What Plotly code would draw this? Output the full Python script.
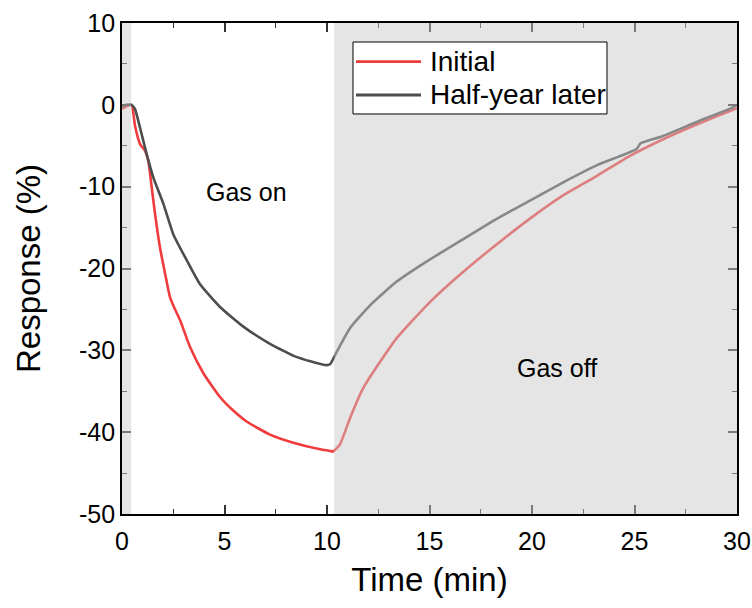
import plotly.graph_objects as go

# ---- data ----
initial_t = [0, 0.2, 0.47, 0.63, 0.88, 1.12, 1.28, 1.45, 1.61, 1.85, 2.1, 2.34, 2.55,
             2.83, 3.32, 3.97, 4.78, 5.4, 6.08, 7.22, 8.36, 9.66, 10.15, 10.3, 10.63,
             11.12, 11.77, 12.59, 13.4, 15.02, 16.65, 18.3, 19.9, 21.5, 23.15, 24.8,
             26.4, 28.03, 29.9, 30]
initial_v = [-0.5, -0.2, 0, -2.5, -4.8, -5.6, -6.8, -10.1, -13.3, -17.4, -20.6, -23.5,
             -24.8, -26.3, -29.6, -32.8, -35.7, -37.3, -38.7, -40.3, -41.3, -42.1, -42.3,
             -42.35, -41.5, -38.3, -34.6, -31.4, -28.5, -24.1, -20.4, -17.0, -13.9,
             -11.1, -8.7, -6.2, -4.2, -2.4, -0.5, -0.4]

half_t = [0, 0.2, 0.47, 0.63, 0.88, 1.2, 1.53, 2.02, 2.5, 3.16, 3.8, 4.78, 5.92, 7.22,
          8.5, 9.9, 10.15, 10.47, 11.12, 12.1, 13.4, 14.7, 16.65, 18.3, 19.9, 21.5,
          23.15, 25.1, 25.3, 26.4, 28.03, 29.8, 30]
half_v = [-0.2, 0, 0, -0.5, -2.8, -6, -8.9, -12.1, -15.8, -19, -21.9, -24.7, -27.1,
          -29.2, -30.8, -31.8, -31.7, -30.2, -27.3, -24.5, -21.6, -19.4, -16.4, -13.9,
          -11.7, -9.5, -7.4, -5.4, -4.7, -3.8, -2.1, -0.3, 0]

series_names = ["Initial", "Half-year later"]
gas_off_start = 10.35
pre_gas_end = 0.45
x_ticks = [0, 5, 10, 15, 20, 25, 30]
y_ticks = [-50, -40, -30, -20, -10, 0, 10]
y_ticktext = ["-50", "-40", "-30", "-20", "-10", "0", "10"]

RED = "#f03c3c"
GRAY = "#4d4d4d"
FONT = "Liberation Sans, Arial, sans-serif"
colors = [RED, GRAY]

fig = go.Figure()
for t, v, name, c in [(initial_t, initial_v, series_names[0], RED),
                      (half_t, half_v, series_names[1], GRAY)]:
    fig.add_trace(go.Scatter(x=t, y=v, mode="lines", name=name, showlegend=False,
                             line=dict(color=c, width=2.6, shape="spline", smoothing=0.5)))

shade = "rgba(200,200,200,0.48)"
for x0, x1 in [(0, pre_gas_end), (gas_off_start, 30)]:
    fig.add_shape(type="rect", xref="x", yref="paper", x0=x0, x1=x1, y0=0, y1=1,
                  fillcolor=shade, line=dict(width=0), layer="above")

# legend box drawn by hand (above the shading)
fig.add_shape(type="rect", xref="paper", yref="paper", x0=0.3756, x1=0.7886,
              y0=0.8147, y1=0.9613, fillcolor="white",
              line=dict(color="black", width=1), layer="above")
legend_y = [0.9212, 0.8534]
for name, c, ly in zip(series_names, colors, legend_y):
    fig.add_shape(type="line", xref="paper", yref="paper", x0=0.3805, x1=0.4862,
                  y0=ly, y1=ly, line=dict(color=c, width=2.8), layer="above")
    fig.add_annotation(xref="paper", yref="paper", x=0.4976, y=ly, text=name,
                       xanchor="left", yanchor="middle", showarrow=False,
                       font=dict(size=28, color="black", family=FONT))

fig.add_annotation(x=6.05, y=-10.7, text="Gas on", showarrow=False,
                   font=dict(size=25, color="black", family=FONT))
fig.add_annotation(x=21.2, y=-32.2, text="Gas off", showarrow=False,
                   font=dict(size=25, color="black", family=FONT))

axis_common = dict(showline=True, linecolor="black", linewidth=1.8, mirror="allticks",
                   ticks="inside", ticklen=9, tickwidth=1.6, tickcolor="#333",
                   showgrid=False, zeroline=False, automargin=False,
                   tickfont=dict(size=25, color="black", family=FONT))

fig.update_xaxes(range=[0, 30], tickvals=x_ticks, ticklabelstandoff=4,
                 title=dict(text="Time (min)", font=dict(size=33, color="black", family=FONT),
                            standoff=14),
                 minor=dict(ticks="inside", ticklen=5, tickwidth=1.4, dtick=2.5,
                            tickcolor="#333", showgrid=False),
                 **axis_common)
fig.update_yaxes(range=[-50, 10], tickvals=y_ticks, ticktext=y_ticktext,
                 title=dict(text="Response (%)", font=dict(size=33, color="black", family=FONT),
                            standoff=28),
                 minor=dict(ticks="inside", ticklen=5, tickwidth=1.4, dtick=5,
                            tickcolor="#333", showgrid=False),
                 **axis_common)

fig.update_layout(
    width=752, height=608,
    margin=dict(l=122, r=15, t=23, b=94),
    paper_bgcolor="white", plot_bgcolor="white",
    font=dict(family=FONT, color="black"),
    showlegend=False,
)

# remove the default 8px page margin so the figure fills the window exactly
fig.write_html("out.html", config={"displayModeBar": False},
               post_script="document.body.style.margin='0px';document.body.style.overflow='hidden';")
